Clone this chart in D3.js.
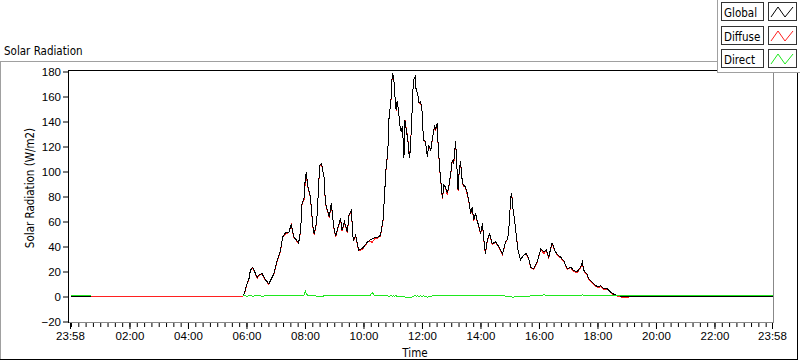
<!DOCTYPE html>
<html><head><meta charset="utf-8">
<script src="https://cdn.jsdelivr.net/npm/d3@7"></script>
<style>
body{margin:0;background:#fff;}
svg{display:block;font-family:"DejaVu Sans Condensed","DejaVu Sans",sans-serif;font-stretch:condensed;}
</style></head><body>
<svg id="c" width="800" height="361"></svg>
<script>
const times = ["23:58","00:40","00:45","05:40","05:51","05:55","06:00","06:04","06:07","06:12","06:16","06:21","06:26","06:31","06:38","06:45","06:50","06:55","07:02","07:09","07:13","07:19","07:26","07:31","07:36","07:42","07:46","07:50","07:53","07:57","08:00","08:02","08:05","08:10","08:16","08:18","08:23","08:27","08:29","08:33","08:38","08:41","08:46","08:49","08:53","08:58","09:02","09:06","09:12","09:15","09:20","09:26","09:29","09:34","09:38","09:43","09:49","09:56","10:02","10:07","10:12","10:17","10:22","10:27","10:34","10:39","10:42","10:45","10:49","10:51","10:56","10:58","11:01","11:03","11:06","11:08","11:11","11:13","11:16","11:19","11:22","11:24","11:27","11:30","11:33","11:35","11:38","11:40","11:42","11:45","11:47","11:50","11:53","11:56","11:59","12:01","12:03","12:06","12:10","12:13","12:17","12:21","12:25","12:27","12:30","12:32","12:35","12:38","12:41","12:44","12:47","12:51","12:55","12:58","13:01","13:04","13:08","13:10","13:13","13:15","13:18","13:22","13:25","13:28","13:32","13:35","13:39","13:42","13:45","13:49","13:52","13:56","13:59","14:03","14:06","14:09","14:13","14:18","14:23","14:30","14:37","14:44","14:47","14:50","14:55","14:58","15:01","15:03","15:05","15:09","15:12","15:16","15:21","15:27","15:33","15:38","15:42","15:48","15:55","16:00","16:03","16:09","16:14","16:19","16:23","16:26","16:29","16:33","16:38","16:43","16:50","16:57","17:04","17:10","17:17","17:24","17:28","17:31","17:37","17:41","17:48","17:55","18:02","18:05","18:12","18:19","18:26","18:33","18:43","18:50","19:30","21:00","23:58"];

const globalVals = [0,0,null,null,0,3,10.2,14,21,23.5,19.5,15.5,17.7,18.2,13.4,10.2,14.2,18,29,37,47.6,50.8,51.6,57.8,47.6,45,42.8,53,74.5,78.5,97,98.5,87.8,79.8,53,50.4,59.7,87.8,105,106,95.8,74.5,67.7,63.7,74.5,55.7,48.2,54.4,62.4,53,59.7,51.6,65,69,45,49,37,38.3,41,43.6,45,46.3,47,47.1,49,61,79.8,101,117,141,160,178,176,163,149,156,149,138.7,132,136,110.6,141,133,125,110.6,117,141,163,173.6,176,165,163,154.8,156,149,133,125,124,112,121,117,128,137,133,138.7,122.6,104,90.5,78.5,89,87.8,82.5,90.5,98.5,109,106.6,124,109,85,98.5,108,90.5,89,87.8,82.5,77,66.4,71.7,61,66.4,61,55.7,50.4,58.4,45,34.3,45,50.4,42.3,43.6,39.6,34.3,38,43.6,46.3,58.4,79.8,82.5,71.7,61,50.4,37,29,33,34.3,30.3,23.5,22.2,27.5,34.3,38.3,35.6,37.5,31.6,38.3,42.8,39.6,35.6,33,31.6,28.4,22.2,23.5,20.9,19.5,23.5,27.5,20.9,18.2,14.2,11.5,8.8,7.5,8.8,6.2,6.2,3.5,1.6,0.5,0,0,0,0];

const diffuseVals = [0,0,0,0,0,2.5,9.9,13.5,20.5,23.2,19,14.7,17.2,17.9,12.9,9.6,13.8,17.5,28.4,36.5,47.2,50.2,51.1,57.1,47.1,44.4,42.3,52.5,73.8,77.3,93,96.5,86.8,79.2,52.5,49.6,59.4,87.8,104.7,106,95.3,73.9,67.2,62.9,74,55.2,47.5,53.9,61.4,52.5,59.1,50.8,64.5,68.4,44.5,48.2,36.5,37.7,40.2,43.1,44.4,43.3,46.2,46.6,48.4,60.5,79.3,100.6,116.5,140.7,159.5,177.8,175.5,162.7,148.5,155.8,148.7,138.7,132.3,136,111.1,141.3,134,125.8,111.1,118,141.5,163,173.3,175.5,164.7,162.5,154.5,155.5,149,132.7,124.5,124,112.5,121,116.7,127.5,136.5,132.2,138.2,122.1,103.4,90,77.7,88.5,87.2,81.5,90,97.9,108.5,105.8,123.5,108.4,84.5,97.5,107.4,90,88.2,87.3,81.3,76.4,65.9,70.9,60.5,65.8,60.5,54.9,49.9,57.8,44.5,33.8,44.4,49.9,41.5,43.1,39,33.8,37.5,43.3,46.3,58.1,79.8,82.8,72.2,61.3,50.4,37.3,29,32.8,34,30,23,21.7,27,33.8,37.8,34.1,36.9,31.1,37.5,42.3,39,35.1,32.4,31.1,27.8,21.7,22.9,20.4,18.9,23,26,20.3,17.7,13.6,11,8.2,7,8.2,5.7,5.6,3,1,0,-0.6,0,0,0];

const directVals = [0.8,0.8,null,null,0.5,0.5,0.3,0.5,0.5,0.3,0.5,0.8,0.5,0.3,0.5,0.6,0.4,0.5,0.6,0.5,0.4,0.6,0.5,0.7,0.5,0.6,0.5,0.5,0.7,1.2,4,2,1,0.6,0.5,0.8,0.3,0,0.3,0,0.5,0.6,0.5,0.8,0.5,0.5,0.7,0.5,1,0.5,0.6,0.8,0.5,0.6,0.5,0.8,0.5,0.6,0.8,0.5,0.6,3,0.8,0.5,0.6,0.5,0.5,0.4,0.5,0.3,0.5,0.2,0.5,0.3,0.5,0.2,0.3,0,-0.3,0,-0.5,-0.3,-1,-0.8,-0.5,-1,-0.5,0,0.3,0.5,0.3,0.5,0.3,0.5,0,0.3,0.5,0,-0.5,0,0.3,0.5,0.5,0.8,0.5,0.5,0.6,0.5,0.8,0.5,0.6,1,0.5,0.6,0.5,0.8,0.5,0.6,0.5,1,0.6,0.5,0.8,0.5,1.2,0.6,0.5,0.8,0.5,0.6,0.5,0.8,0.5,0.6,0.5,0.5,0.6,0.5,0.8,0.5,0.6,0.5,0.5,0.3,0,0.3,0,-0.3,-0.5,-0.3,0,-0.3,0,0.2,0.3,0.3,0.5,0.5,0.5,0.5,0.5,1.5,0.6,0.5,0.8,0.5,0.6,0.5,0.6,0.5,0.6,0.5,0.6,0.5,0.6,0.5,1.5,0.6,0.5,0.6,0.5,0.6,0.5,0.6,0.5,0.6,0.5,0.6,0.5,0.6,0.8,0.8,0.8];

const seriesNames = ["Global","Diffuse","Direct"];
const seriesColors = ["#000000","#ff2020","#1ee81e"];
const yTicks = [-20,0,20,40,60,80,100,120,140,160,180];
const xMajorTicks = ["23:58","02:00","04:00","06:00","08:00","10:00","12:00","14:00","16:00","18:00","20:00","22:00","23:58"];
const chartTitle = "Solar Radiation";
const yTitle = "Solar Radiation (W/m2)";
const xTitle = "Time";

// parse helper: first "23:58" belongs to the previous day
const base1 = new Date(2000,0,1), base2 = new Date(2000,0,2);
function toDate(s, i){
  const [h,m] = s.split(":").map(Number);
  const b = (i===0) ? base1 : base2;
  return new Date(b.getFullYear(), b.getMonth(), b.getDate(), h, m);
}
const tDates = times.map(toDate);
const majorDates = xMajorTicks.map(toDate);

const svg = d3.select("#c");
const L = 68, R = 773, T = 70, B = 322;

const x = d3.scaleTime().domain([majorDates[0], majorDates[majorDates.length-1]]).range([70, 772]);
const y = d3.scaleLinear().domain([-20,180]).range([321.5, 71.5]);

// outer frame
svg.append("line").attr("x1",0).attr("x2",717).attr("y1",61.5).attr("y2",61.5).attr("stroke","#a0a0a0");
svg.append("line").attr("x1",0.5).attr("x2",0.5).attr("y1",61).attr("y2",360).attr("stroke","#a0a0a0");
svg.append("line").attr("x1",0).attr("x2",798).attr("y1",359.5).attr("y2",359.5).attr("stroke","#000");
svg.append("line").attr("x1",797.5).attr("x2",797.5).attr("y1",72).attr("y2",360).attr("stroke","#000");

// title
svg.append("text").attr("x",4).attr("y",55).attr("font-size",11.5).attr("fill","#000").text(chartTitle);

// plot frame
svg.append("rect").attr("x",L).attr("y",T).attr("width",R-L).attr("height",B-T).attr("fill","#fff");
svg.append("line").attr("x1",L).attr("x2",R).attr("y1",T+0.5).attr("y2",T+0.5).attr("stroke","#000");
svg.append("line").attr("x1",L+0.5).attr("x2",L+0.5).attr("y1",T).attr("y2",B+1).attr("stroke","#000");
svg.append("line").attr("x1",R+0.5).attr("x2",R+0.5).attr("y1",T).attr("y2",B+1).attr("stroke","#888");
svg.append("line").attr("x1",L+1).attr("x2",R+1).attr("y1",B+0.5).attr("y2",B+0.5).attr("stroke","#888");

// y axis
const yAxis = svg.append("g").attr("transform",`translate(${L},0)`)
  .call(d3.axisLeft(y).tickValues(yTicks).tickSize(5).tickPadding(2));
yAxis.select(".domain").remove();
yAxis.selectAll("text").attr("font-size",11.5).attr("font-family",null).attr("fill","#000");
yAxis.selectAll("line").attr("stroke","#000");

// x axis minor ticks
const minorDates = d3.timeMinute.every(15).range(base2, new Date(2000,0,2,23,46));
const xMinor = svg.append("g").attr("transform",`translate(0,${B+1})`)
  .call(d3.axisBottom(x).tickValues(minorDates).tickSize(4).tickFormat(""));
xMinor.select(".domain").remove();
xMinor.selectAll("line").attr("stroke","#000");
// x axis major
const xAxis = svg.append("g").attr("transform",`translate(0,${B+1})`)
  .call(d3.axisBottom(x).tickValues(majorDates).tickSize(6).tickPadding(3).tickFormat(d3.timeFormat("%H:%M")));
xAxis.select(".domain").remove();
xAxis.selectAll("text").attr("font-size",11.5).attr("font-family",null).attr("fill","#000");
xAxis.selectAll("line").attr("stroke","#000");

// axis titles
svg.append("text").attr("x",415).attr("y",357).attr("text-anchor","middle").attr("font-size",11.5).attr("fill","#000").text(xTitle);
svg.append("text").attr("transform","translate(34,188) rotate(-90)").attr("text-anchor","middle").attr("font-size",11.5).attr("fill","#000").text(yTitle);

// data lines
const seriesVals = [globalVals, diffuseVals, directVals];
const drawOrder = [1,0,2];
svg.append("clipPath").attr("id","pc").append("rect").attr("x",L+1).attr("y",T+1).attr("width",R-L-1).attr("height",B-T-1);
const gLines = svg.append("g").attr("clip-path","url(#pc)");
drawOrder.forEach(si=>{
  const vals = seriesVals[si];
  const pts = tDates.map((d,i)=>({d, v: vals[i]}));
  const line = d3.line().defined(p=>p.v!==null).x(p=>x(p.d)+0.5).y(p=>y(p.v));
  gLines.append("path").attr("d",line(pts)).attr("fill","none")
    .attr("stroke",seriesColors[si]).attr("stroke-width",1).attr("shape-rendering","crispEdges");
});

// legend
const lg = svg.append("g");
lg.append("rect").attr("x",717).attr("y",0).attr("width",83).attr("height",72).attr("fill","#fff");
lg.append("line").attr("x1",717.5).attr("x2",717.5).attr("y1",0).attr("y2",73).attr("stroke","#a0a0a0");
lg.append("line").attr("x1",717).attr("x2",800).attr("y1",72.5).attr("y2",72.5).attr("stroke","#a0a0a0");
const rowY = [2,26,49];
seriesNames.forEach((name,i)=>{
  const ry = rowY[i];
  lg.append("rect").attr("x",721.5).attr("y",ry+0.5).attr("width",42).attr("height",18).attr("fill","#fff").attr("stroke","#333");
  lg.append("text").attr("x",724).attr("y",ry+14.5).attr("font-size",11.5).attr("fill","#000").text(name);
  lg.append("rect").attr("x",768.5).attr("y",ry+0.5).attr("width",28).attr("height",18).attr("fill","#fff").attr("stroke","#333");
  lg.append("path").attr("d",`M771,${ry+15}L778,${ry+5}L785,${ry+15}L793,${ry+5}`)
    .attr("fill","none").attr("stroke",seriesColors[i]).attr("stroke-width",1);
});
</script>
</body></html>
